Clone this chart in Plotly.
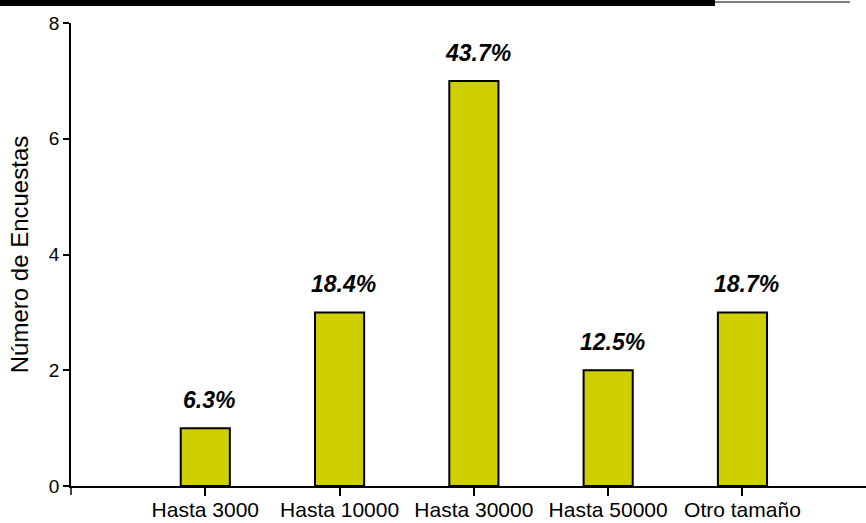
import plotly.graph_objects as go

categories = ["Hasta 3000", "Hasta 10000", "Hasta 30000", "Hasta 50000", "Otro tamaño"]
counts = [1, 3, 7, 2, 3]
percent_labels = ["6.3%", "18.4%", "43.7%", "12.5%", "18.7%"]
y_ticks = [0, 2, 4, 6, 8]
y_title = "Número de Encuestas"

FONT = "Arial, Liberation Sans, sans-serif"
W, H = 866, 523
L, R, T, B = 71, 0, 23, 37
plot_w = W - L - R
plot_h = H - T - B

fig = go.Figure()
fig.add_trace(go.Bar(
    x=list(range(len(categories))),
    y=counts,
    width=0.366,
    marker=dict(color="#CFCF00", line=dict(color="black", width=2)),
    showlegend=False,
    hoverinfo="skip",
))

for i, (v, t) in enumerate(zip(counts, percent_labels)):
    fig.add_annotation(
        x=i, y=v, text=f"<b><i>{t}</i></b>", showarrow=False,
        yanchor="bottom", xanchor="center", yshift=13, xshift=4,
        font=dict(family=FONT, size=23, color="black"),
    )

# y-axis extension below the x axis
fig.add_shape(type="line", xref="paper", yref="paper",
              x0=0, x1=0, y0=0, y1=-9 / plot_h,
              line=dict(color="black", width=1.5))
# decorative page lines at top
top_y = 1 + (T - 3) / plot_h
fig.add_shape(type="line", xref="paper", yref="paper",
              x0=(0 - L) / plot_w, x1=(715 - L) / plot_w, y0=top_y, y1=top_y,
              line=dict(color="black", width=6))
thin_y = 1 + (T - 2) / plot_h
fig.add_shape(type="line", xref="paper", yref="paper",
              x0=(715 - L) / plot_w, x1=(850 - L) / plot_w, y0=thin_y, y1=thin_y,
              line=dict(color="black", width=1))

fig.update_layout(
    width=W, height=H,
    margin=dict(l=L, r=R, t=T, b=B, pad=0),
    plot_bgcolor="white", paper_bgcolor="white",
    font=dict(family=FONT, color="black"),
)
fig.update_xaxes(
    range=[-1.0, 4.92],
    tickmode="array", tickvals=list(range(len(categories))), ticktext=categories,
    ticks="outside", ticklen=8, tickwidth=1.5, tickcolor="black",
    showline=True, linecolor="black", linewidth=1.5,
    showgrid=False, zeroline=False,
    ticklabelstandoff=-4,
    tickfont=dict(family=FONT, size=21, color="black"),
)
fig.update_yaxes(
    range=[0, 8],
    tickmode="array", tickvals=y_ticks,
    ticks="outside", ticklen=6, tickwidth=1.5, tickcolor="black",
    showline=True, linecolor="black", linewidth=1.5,
    showgrid=False, zeroline=False,
    tickfont=dict(family=FONT, size=19, color="black"),
    title=dict(text=y_title, font=dict(family=FONT, size=24, color="black"), standoff=13),
)

fig.write_html("out.html", config={"displayModeBar": False},
               post_script="document.body.style.margin='0';")
